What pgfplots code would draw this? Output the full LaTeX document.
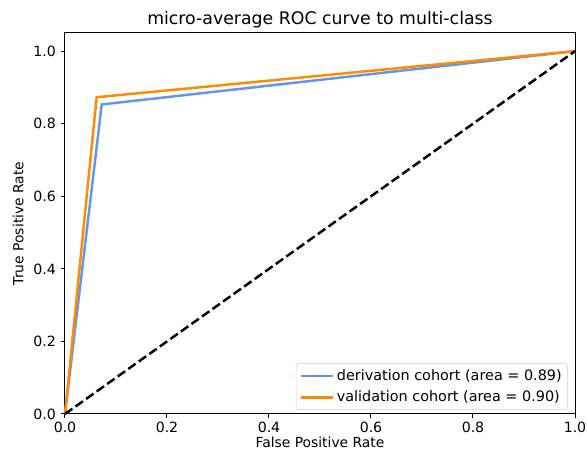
\documentclass[border=0pt]{standalone}
\usepackage{pgfplots}
\pgfplotsset{compat=1.18}
\usepackage{fontspec}
\setmainfont{DejaVu Sans}
\definecolor{cfblue}{HTML}{6495ED}
\definecolor{dorange}{HTML}{FF8C00}
\begin{document}
\fontsize{10.6}{12.5}\selectfont
\begin{tikzpicture}
\begin{axis}[
  at={(0,0)}, anchor=south west,
  scale only axis, width=382.5pt, height=285.75pt,
  xmin=0, xmax=1, ymin=0, ymax=1.05,
  xtick={0,0.2,0.4,0.6,0.8,1.0}, ytick={0,0.2,0.4,0.6,0.8,1.0},
  xticklabel style={yshift=1pt, /pgf/number format/.cd,fixed,fixed zerofill,precision=1},
  yticklabel style={/pgf/number format/.cd,fixed,fixed zerofill,precision=1},
  /pgf/number format/assume math mode=true,
  tick align=outside, tick pos=left, major tick length=3.2pt,
  every tick/.style={black, line width=0.75pt},
  axis line style={line width=0.75pt},
  ticklabel style={font=\fontsize{10.6}{12.5}\selectfont},
  xlabel={False Positive Rate}, ylabel={True Positive Rate},
  label style={font=\fontsize{10.4}{12.5}\selectfont},
  xlabel style={yshift=4pt}, ylabel style={yshift=0pt},
  title={micro-average ROC curve to multi-class},
  title style={font=\fontsize{13}{15}\selectfont, yshift=-6pt},
  legend style={at={(1,0)}, anchor=south east, font=\fontsize{10.8}{12.5}\selectfont, draw=black!20, rounded corners=2pt, inner sep=2.5pt, row sep=2pt, xshift=-5.25pt, yshift=3pt},
  legend cell align=left,
  legend image code/.code={\draw[#1, line width=2pt] (0pt,0pt) -- (24pt,0pt);},
  clip=false,
]
\addplot[cfblue, line width=1.85pt, line join=round] coordinates {(0,0) (0.072,0.853) (1,1)};
\addlegendentry{derivation cohort (area = 0.89)}
\addplot[dorange, line width=1.85pt, line join=round] coordinates {(0,0) (0.062,0.873) (1,1)};
\addlegendentry{validation cohort (area = 0.90)}
\addplot[black, line width=1.85pt, dash pattern=on 6.8pt off 2.9pt, forget plot] coordinates {(0,0) (1,1)};
\end{axis}
\pgfresetboundingbox
\path (-48.75pt,-32.25pt) rectangle (391.5pt,310.5pt);
\end{tikzpicture}
\end{document}
